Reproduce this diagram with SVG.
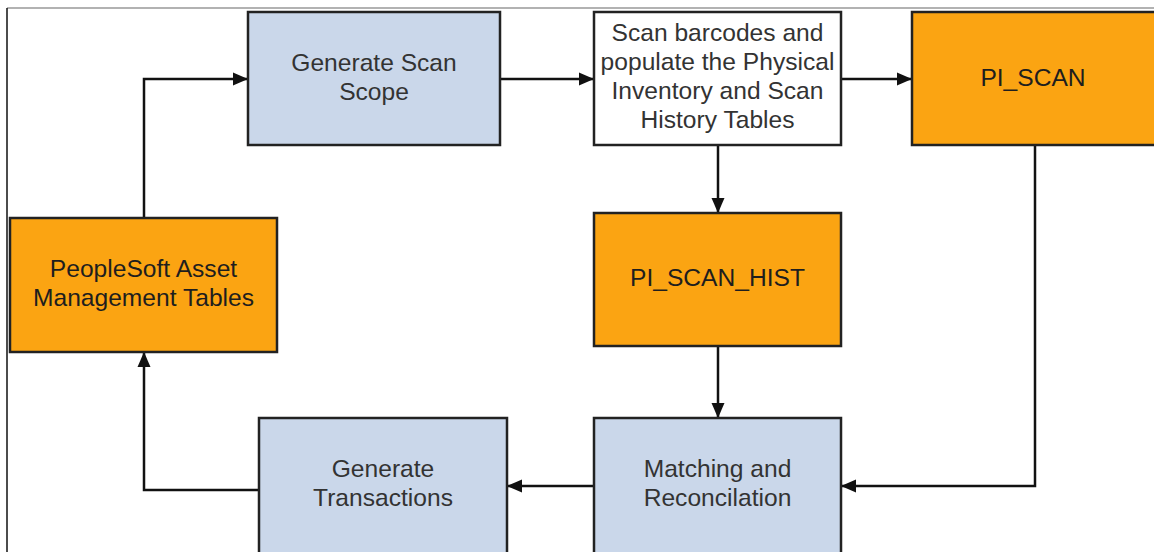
<svg xmlns="http://www.w3.org/2000/svg" width="1154" height="552" viewBox="0 0 1154 552">
<defs>
<style>
.box{stroke:#222;stroke-width:2.5}
.blue{fill:#CAD7EA}
.orange{fill:#FBA412}
.white{fill:#FFFFFF}
.lbl{font-family:"Liberation Sans",Arial,sans-serif;font-size:24.6px;fill:#333;text-anchor:middle}
.dark{fill:#1e1e1e}
.conn{fill:none;stroke:#111;stroke-width:2.5}
</style>
<marker id="arr" markerUnits="userSpaceOnUse" markerWidth="15" markerHeight="14" viewBox="0 0 15 14" refX="15" refY="7" orient="auto">
<path d="M0,0.5 L15,7 L0,13.5 Z" fill="#111"/>
</marker>
</defs>
<rect x="0" y="0" width="1154" height="552" fill="#fff"/>
<line x1="7" y1="8" x2="1154" y2="8" stroke="#999" stroke-width="1.5"/>
<line x1="7" y1="8" x2="7" y2="552" stroke="#111" stroke-width="1.5"/>

<g id="connectors">
<path class="conn" d="M144,218 V79 H248" marker-end="url(#arr)"/>
<path class="conn" d="M500,79 H594" marker-end="url(#arr)"/>
<path class="conn" d="M841,79 H912" marker-end="url(#arr)"/>
<path class="conn" d="M718,145 V213" marker-end="url(#arr)"/>
<path class="conn" d="M718,346 V418" marker-end="url(#arr)"/>
<path class="conn" d="M1035,145 V486 H841" marker-end="url(#arr)"/>
<path class="conn" d="M594,486 H507" marker-end="url(#arr)"/>
<path class="conn" d="M259,490 H144 V352" marker-end="url(#arr)"/>
</g>

<g id="scan-scope">
<rect class="box blue" x="248" y="12" width="252" height="133"/>
<text class="lbl" x="374" y="71">Generate Scan</text>
<text class="lbl" x="374" y="100">Scope</text>
</g>

<g id="scan-barcodes">
<rect class="box white" x="594" y="12" width="247" height="133"/>
<text class="lbl" x="717.5" y="41">Scan barcodes and</text>
<text class="lbl" x="717.5" y="70">populate the Physical</text>
<text class="lbl" x="717.5" y="99">Inventory and Scan</text>
<text class="lbl" x="717.5" y="128">History Tables</text>
</g>

<g id="pi-scan">
<rect class="box orange" x="912" y="12" width="252" height="133"/>
<text class="lbl dark" x="1033" y="86">PI_SCAN</text>
</g>

<g id="peoplesoft-tables">
<rect class="box orange" x="10" y="218" width="267" height="134"/>
<text class="lbl dark" x="143.5" y="277">PeopleSoft Asset</text>
<text class="lbl dark" x="143.5" y="306">Management Tables</text>
</g>

<g id="pi-scan-hist">
<rect class="box orange" x="594" y="213" width="247" height="133"/>
<text class="lbl dark" x="717.5" y="286">PI_SCAN_HIST</text>
</g>

<g id="matching">
<rect class="box blue" x="594" y="418" width="247" height="150"/>
<text class="lbl" x="717.5" y="477">Matching and</text>
<text class="lbl" x="717.5" y="506">Reconcilation</text>
</g>

<g id="generate-transactions">
<rect class="box blue" x="259" y="418" width="248" height="150"/>
<text class="lbl" x="383" y="477">Generate</text>
<text class="lbl" x="383" y="506">Transactions</text>
</g>
</svg>
